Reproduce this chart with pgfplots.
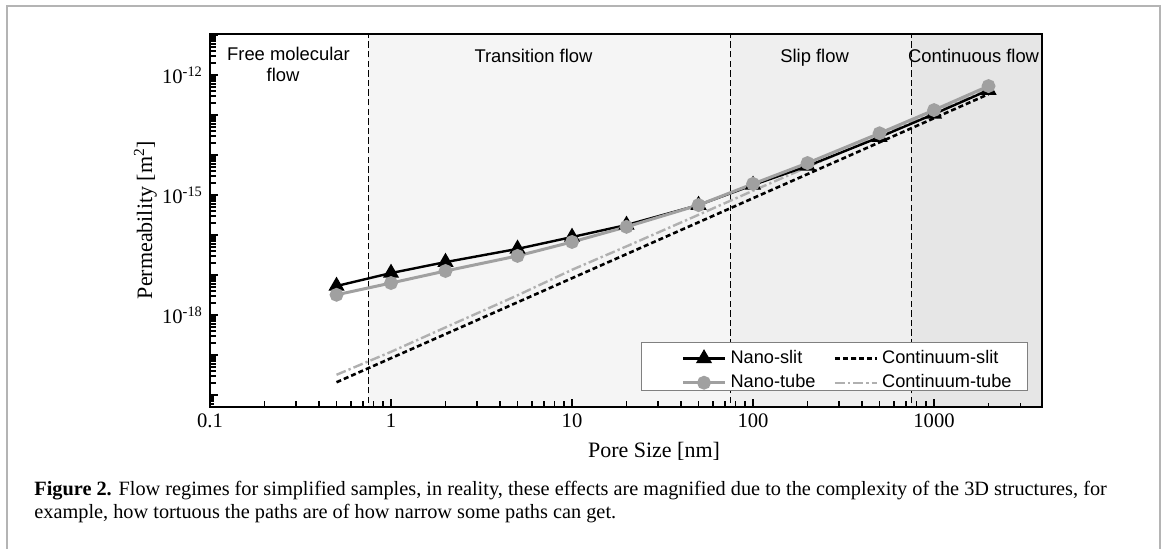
\documentclass[border=0pt]{standalone}
\usepackage{fontspec}
\setmainfont{Liberation Serif}
\newfontfamily\arial{Liberation Sans}
\usepackage{pgfplots}
\pgfplotsset{compat=1.18}

\definecolor{transbg}{HTML}{F5F5F5}
\definecolor{slipbg}{HTML}{EFEFEF}
\definecolor{contbg}{HTML}{E6E6E6}
\definecolor{tubegray}{HTML}{A0A0A0}
\definecolor{ctgray}{HTML}{B0B0B0}
\definecolor{framegray}{HTML}{B4B4B4}

\begin{document}
\begin{tikzpicture}
\useasboundingbox (0,0) rectangle (583.5pt,-274pt);
\draw[framegray, line width=1pt] (3.5pt,-290pt) -- (3.5pt,-3pt) -- (580pt,-3pt) -- (580pt,-290pt);

\begin{axis}[
  at={(105pt,-203.5pt)}, anchor=south west,
  scale only axis, width=416pt, height=186.5pt,
  xmode=log, ymode=log,
  xmin=0.1, xmax=3950, ymin=5e-21, ymax=1.06e-11,
  xtick={0.1,1,10,100,1000},
  xticklabels={0.1,1,10,100,1000},
  extra x ticks={0.2,0.3,0.4,0.5,0.6,0.7,0.8,0.9,2,3,4,5,6,7,8,9,20,30,40,50,60,70,80,90,
    200,300,400,500,600,700,800,900,2000,3000},
  extra x tick labels={},
  extra x tick style={major tick length=2pt},
  ytick={1e-20,1e-19,1e-18,1e-17,1e-16,1e-15,1e-14,1e-13,1e-12,1e-11},
  yticklabels={,,10\textsuperscript{-18},,,10\textsuperscript{-15},,,10\textsuperscript{-12},},
  extra y ticks={6e-21,7e-21,8e-21,9e-21,
    2e-20,3e-20,4e-20,5e-20,6e-20,7e-20,8e-20,9e-20,
    2e-19,3e-19,4e-19,5e-19,6e-19,7e-19,8e-19,9e-19,
    2e-18,3e-18,4e-18,5e-18,6e-18,7e-18,8e-18,9e-18,
    2e-17,3e-17,4e-17,5e-17,6e-17,7e-17,8e-17,9e-17,
    2e-16,3e-16,4e-16,5e-16,6e-16,7e-16,8e-16,9e-16,
    2e-15,3e-15,4e-15,5e-15,6e-15,7e-15,8e-15,9e-15,
    2e-14,3e-14,4e-14,5e-14,6e-14,7e-14,8e-14,9e-14,
    2e-13,3e-13,4e-13,5e-13,6e-13,7e-13,8e-13,9e-13,
    2e-12,3e-12,4e-12,5e-12,6e-12,7e-12,8e-12,9e-12},
  extra y tick labels={},
  extra y tick style={major tick length=2pt},
  tick align=inside, xtick pos=bottom, ytick pos=left,
  major tick length=3.8pt,
  tick style={black, line width=0.9pt},
  axis line style={line width=1pt},
  tick label style={font=\fontsize{10.3}{12}\selectfont},
  axis on top,
  legend columns=2,
  legend cell align=left,
  legend image code/.code={
    \draw[mark repeat=2, mark phase=2, #1] plot coordinates {(0pt,0pt) (10.5pt,0pt) (21pt,0pt)};
  },
  legend style={at={(1,0)}, anchor=south east, xshift=-13pt, yshift=4.5pt,
    draw=none, fill=none,
    font=\arial\fontsize{9.1}{10.5}\selectfont,
    inner xsep=0pt, inner ysep=1.4pt,
    nodes={inner ysep=2pt},
    /tikz/every even column/.append style={column sep=7pt}},
]
\addlegendimage{black, line width=1.2pt, mark=triangle*, mark size=3.5pt}
\addlegendentry{Nano-slit}
\addlegendimage{black, line width=1.3pt, dash pattern=on 2.5pt off 1.5pt}
\addlegendentry{Continuum-slit}
\addlegendimage{tubegray, line width=1.5pt, mark=*, mark size=2.7pt, mark options={fill=tubegray, draw=tubegray}}
\addlegendentry{Nano-tube}
\addlegendimage{ctgray, line width=1.2pt, dash pattern=on 5pt off 1.5pt on 1.2pt off 1.5pt}
\addlegendentry{Continuum-tube}

% flow regime backgrounds
\fill[transbg] (axis cs:0.75,1e-25) rectangle (axis cs:75,1e-5);
\fill[slipbg] (axis cs:75,1e-25) rectangle (axis cs:750,1e-5);
\fill[contbg] (axis cs:750,1e-25) rectangle (axis cs:1e4,1e-5);
\draw[black, line width=0.6pt, dash pattern=on 3.2pt off 1.6pt] (axis cs:0.75,1e-25) -- (axis cs:0.75,1e-5);
\draw[black, line width=0.6pt, dash pattern=on 3.2pt off 1.6pt] (axis cs:75,1e-25) -- (axis cs:75,1e-5);
\draw[black, line width=0.6pt, dash pattern=on 3.2pt off 1.6pt] (axis cs:750,1e-25) -- (axis cs:750,1e-5);

% Continuum-slit
\addplot[forget plot, black, line width=1.3pt, dash pattern=on 2.5pt off 1.5pt] coordinates {
  (0.5,2.08e-20) (1,8.33e-20) (2,3.33e-19) (5,2.08e-18) (10,8.33e-18) (20,3.33e-17)
  (50,2.08e-16) (100,8.33e-16) (200,3.33e-15) (500,2.08e-14) (1000,8.33e-14) (2000,3.33e-13)
};
% Continuum-tube
\addplot[forget plot, ctgray, line width=1.2pt, dash pattern=on 5pt off 1.5pt on 1.2pt off 1.5pt] coordinates {
  (0.5,3.2e-20) (1,1.2e-19) (2,4.9e-19) (5,3.1e-18) (10,1.35e-17) (20,5.2e-17)
  (50,3.2e-16) (100,1.28e-15) (200,5.0e-15) (500,3.0e-14) (1000,1.15e-13) (2000,4.4e-13)
};
% Nano-slit
\addplot[forget plot, black, line width=1.2pt, mark=triangle*, mark size=3.5pt] coordinates {
  (0.5,5.3e-18) (1,1.12e-17) (2,2.1e-17) (5,4.5e-17) (10,8.9e-17) (20,1.78e-16)
  (50,5.6e-16) (100,1.78e-15) (200,5.3e-15) (500,2.8e-14) (1000,1.06e-13) (2000,4.2e-13)
};
% Nano-tube
\addplot[forget plot, tubegray, line width=1.5pt, mark=*, mark size=2.7pt, mark options={fill=tubegray, draw=tubegray}] coordinates {
  (0.5,3.2e-18) (1,6.3e-18) (2,1.26e-17) (5,3.0e-17) (10,6.7e-17) (20,1.6e-16)
  (50,5.6e-16) (100,1.9e-15) (200,6.3e-15) (500,3.5e-14) (1000,1.33e-13) (2000,5.3e-13)
};

% legend frame
\draw[gray, line width=0.5pt, fill=white] (rel axis cs:0.519,0.0456) rectangle (rel axis cs:0.983,0.1743);
\end{axis}

% regime labels
\begin{scope}[every node/.style={font=\arial\fontsize{9.2}{11}\selectfont, inner sep=0pt, anchor=base}]
\node at (144.25pt,-30pt) {Free molecular};
\node at (141.5pt,-40.85pt) {flow};
\node at (266.75pt,-31.25pt) {Transition flow};
\node at (407.3pt,-31.25pt) {Slip flow};
\node at (486.8pt,-31.25pt) {Continuous flow};
\end{scope}

% axis labels
\node[anchor=base, inner sep=0pt, font=\fontsize{11}{13}\selectfont] at (327pt,-228.5pt) {Pore Size [nm]};
\node[rotate=90, anchor=base, inner sep=0pt, font=\fontsize{11}{13}\selectfont] at (76pt,-110pt) {Permeability [m\textsuperscript{2}]};

% caption
\begin{scope}[every node/.style={anchor=base west, inner sep=0pt, font=\fontsize{10.15}{11.5}\selectfont}]
\node at (17pt,-247.5pt) {\textbf{Figure 2.} Flow regimes for simplified samples, in reality, these effects are magnified due to the complexity of the 3D structures, for};
\node at (17pt,-259pt) {example, how tortuous the paths are of how narrow some paths can get.};
\end{scope}
\end{tikzpicture}
\end{document}
